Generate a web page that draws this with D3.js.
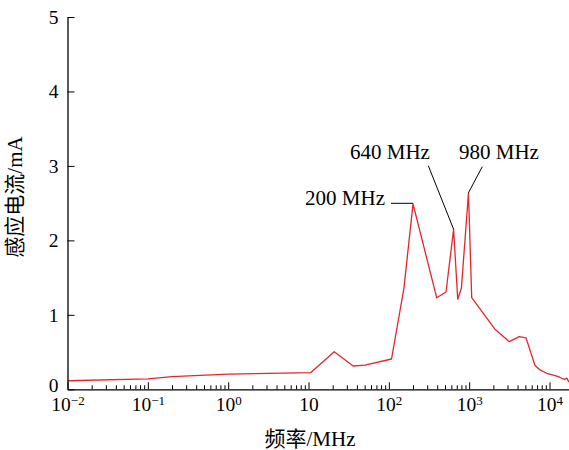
<!DOCTYPE html>
<html>
<head>
<meta charset="utf-8">
<script src="https://cdn.jsdelivr.net/npm/d3@7"></script>
<style>
  body { margin: 0; background: #fff; }
  svg { display: block; font-family: "Liberation Serif", "Times New Roman", "Noto Sans CJK SC", serif; }
</style>
</head>
<body>
<div id="chart"></div>
<script>
// Induced current vs frequency (log x)
const freqs = [0.01, 0.1, 0.2, 1, 10.7, 20.9, 36, 50.5, 108, 154, 200, 394, 515, 640, 720, 800, 980, 1075,
    2100, 3160, 4200, 5100, 6600, 7620, 9230, 11170, 12890, 14200, 15600, 16400, 17500];
const current = [0.115, 0.14, 0.17, 0.205, 0.225, 0.505, 0.313, 0.326, 0.407, 1.356, 2.49, 1.23, 1.307, 2.15, 1.21, 1.356, 2.64, 1.23,
    0.806, 0.64, 0.707, 0.69, 0.32, 0.26, 0.215, 0.19, 0.17, 0.148, 0.134, 0.15, 0.094];

const xMajor = [-2, -1, 0, 1, 2, 3, 4]; // exponents
const yTicks = [0, 1, 2, 3, 4, 5];

// peak labels
const peaks = [
    { f: 200, v: 2.49, text: "200 MHz" },
    { f: 640, v: 2.15, text: "640 MHz" },
    { f: 980, v: 2.64, text: "980 MHz" }
];

const serif = "'Liberation Serif', 'Times New Roman', serif";

const W = 569, H = 450;
const svg = d3.select("#chart").append("svg")
    .attr("width", W)
    .attr("height", H);

const x = d3.scaleLog()
    .domain([0.01, Math.pow(10, 4.25)])
    .range([67.5, 569.6]);

const y = d3.scaleLinear()
    .domain([0, 5])
    .range([389.3, 17]);

// clip to plot area
svg.append("clipPath").attr("id", "clip")
    .append("rect")
    .attr("x", 67)
    .attr("y", 0)
    .attr("width", W - 67)
    .attr("height", 392);

// curve
const line = d3.line()
    .x((d, i) => x(freqs[i]))
    .y(d => y(d));

svg.append("path")
    .datum(current)
    .attr("clip-path", "url(#clip)")
    .attr("fill", "none")
    .attr("stroke", "#e3262b")
    .attr("stroke-width", 1.3)
    .attr("stroke-linejoin", "round")
    .attr("d", line);

// minor x ticks
const minors = [];
for (let e = -2; e <= 4; e++) {
    for (let m = 2; m <= 9; m++) {
        const v = m * Math.pow(10, e);
        if (v <= x.domain()[1]) minors.push(v);
    }
}

svg.append("g")
    .attr("transform", `translate(0,${y(0)})`)
    .call(d3.axisBottom(x).tickValues(minors).tickSize(-4).tickFormat(""))
    .call(g => g.select(".domain").remove())
    .selectAll("line").attr("stroke", "#000");

// major x ticks
const xAxis = svg.append("g")
    .attr("transform", `translate(0,${y(0)})`)
    .call(d3.axisBottom(x)
        .tickValues(xMajor.map(e => Math.pow(10, e)))
        .tickSize(-7)
        .tickSizeOuter(0)
        .tickFormat(""));

xAxis.select(".domain").attr("stroke", "#000").attr("stroke-width", 1.3);
xAxis.selectAll(".tick line").attr("stroke", "#000");

xAxis.selectAll(".tick").each(function(d, i) {
    const e = xMajor[i];
    const t = d3.select(this).append("text")
        .attr("y", 22)
        .attr("fill", "#000")
        .style("font-size", "19.5px")
        .style("font-family", serif)
        .attr("text-anchor", "middle");
    t.append("tspan").text("10");
    if (e !== 1) {
        t.append("tspan")
            .attr("dy", -6)
            .style("font-size", "13px")
            .text(e < 0 ? "\u2212" + (-e) : String(e));
    }
});

// y axis
const yAxis = svg.append("g")
    .attr("transform", `translate(${x(0.01)},0)`)
    .call(d3.axisLeft(y)
        .tickValues(yTicks)
        .tickSize(-7)
        .tickSizeOuter(0)
        .tickPadding(9)
        .tickFormat(d3.format("d")));

yAxis.select(".domain").attr("stroke", "#000").attr("stroke-width", 1.3);
yAxis.selectAll(".tick line").attr("stroke", "#000");
yAxis.selectAll(".tick text")
    .attr("fill", "#000")
    .attr("dy", d => d === 0 ? "0.12em" : "0.32em")
    .style("font-size", "19.5px")
    .style("font-family", serif);

// axis titles
svg.append("text")
    .attr("x", 310)
    .attr("y", 446)
    .attr("text-anchor", "middle")
    .style("font-size", "21px")
    .text("频率/MHz");

svg.append("text")
    .attr("transform", "translate(22,197) rotate(-90)")
    .attr("text-anchor", "middle")
    .style("font-size", "21px")
    .text("感应电流/mA");

// peak annotations
const ann = svg.append("g")
    .style("font-size", "21px")
    .style("font-family", serif);

// 200 MHz: horizontal leader
ann.append("line")
    .attr("x1", 391).attr("y1", 203.3)
    .attr("x2", x(peaks[0].f)).attr("y2", 203.3)
    .attr("stroke", "#000").attr("stroke-width", 1);
ann.append("text")
    .attr("x", 385).attr("y", 205)
    .attr("text-anchor", "end")
    .text(peaks[0].text);

// 640 MHz
ann.append("line")
    .attr("x1", 428.3).attr("y1", 165.7)
    .attr("x2", x(peaks[1].f)).attr("y2", y(peaks[1].v))
    .attr("stroke", "#000").attr("stroke-width", 1);
ann.append("text")
    .attr("x", 390).attr("y", 159)
    .attr("text-anchor", "middle")
    .text(peaks[1].text);

// 980 MHz
ann.append("line")
    .attr("x1", 482.3).attr("y1", 166.7)
    .attr("x2", x(peaks[2].f)).attr("y2", y(peaks[2].v))
    .attr("stroke", "#000").attr("stroke-width", 1);
ann.append("text")
    .attr("x", 499).attr("y", 159)
    .attr("text-anchor", "middle")
    .text(peaks[2].text);
</script>
</body>
</html>
